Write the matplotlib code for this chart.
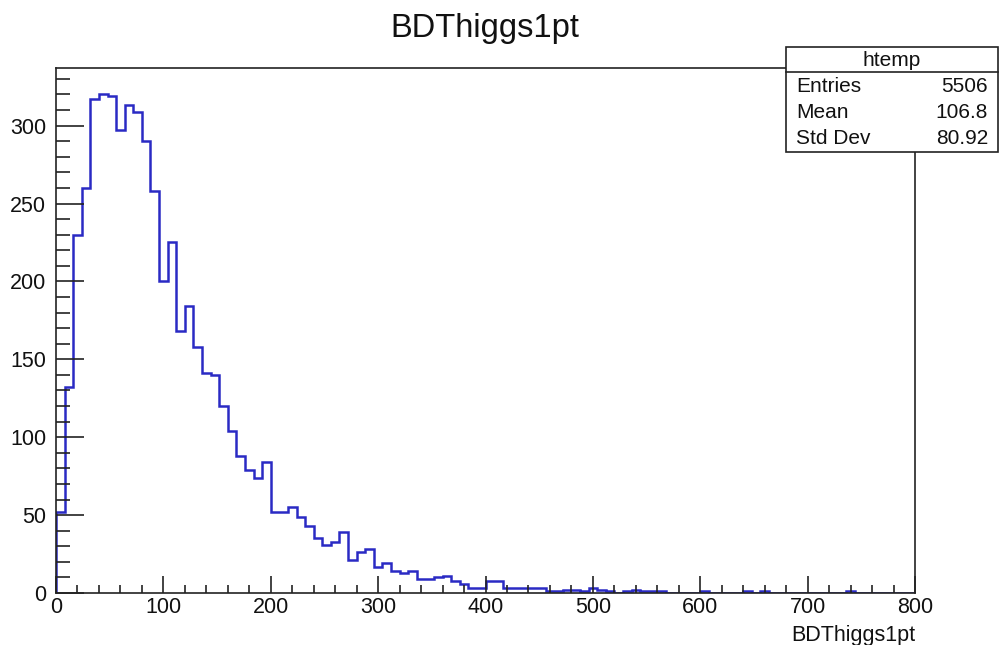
import numpy as np
import matplotlib
matplotlib.use("Agg")
import matplotlib.pyplot as plt
from matplotlib.patches import Rectangle
from matplotlib.ticker import MultipleLocator

plt.rcParams['font.family'] = ['Liberation Sans', 'DejaVu Sans']

# histogram BDThiggs1pt, 100 bins of width 8 from 0 to 800
bin_edges = np.arange(0, 808, 8)
counts = [52, 132, 230, 260, 317, 320, 319, 297, 313, 309,
          290, 258, 200, 225, 168, 184, 158, 141, 140, 120,
          104, 88, 79, 74, 84, 52, 52, 55, 49, 43,
          35, 31, 33, 39, 21, 26, 28, 17, 19, 14,
          13, 14, 9, 9, 10, 11, 8, 6, 3, 3,
          8, 8, 3, 3, 3, 3, 3, 1, 1, 2,
          2, 1, 3, 2, 1, 0, 1, 2, 1, 1,
          1, 0, 0, 0, 0, 1, 0, 0, 0, 0,
          1, 0, 1, 0, 0, 0, 0, 0, 0, 0,
          0, 0, 1, 0, 0, 0, 0, 0, 0, 0]

stat_names = ['Entries', 'Mean', 'Std Dev']
stat_values = ['5506', '106.8', '80.92']

fig = plt.figure(figsize=(9.99, 6.45), dpi=100)
ax = fig.add_axes([56/999, 52/645, 859/999, 525/645])

ax.stairs(counts, bin_edges, color='#2a2ac4', linewidth=1.8)

ax.set_xlim(0, 800)
ax.set_ylim(0, 337)
ax.xaxis.set_major_locator(MultipleLocator(100))
ax.xaxis.set_minor_locator(MultipleLocator(20))
ax.yaxis.set_major_locator(MultipleLocator(50))
ax.yaxis.set_minor_locator(MultipleLocator(10))
ax.tick_params(axis='both', which='both', direction='in', labelsize=15.5,
               width=1.2, colors='#222222', labelcolor='#111111')
ax.tick_params(axis='x', which='major', length=12, pad=3)
ax.tick_params(axis='x', which='minor', length=6)
ax.tick_params(axis='y', which='major', length=20, pad=7)
ax.tick_params(axis='y', which='minor', length=10)
for s in ax.spines.values():
    s.set_linewidth(1.2)
    s.set_color('#222222')

ax.set_xlabel('BDThiggs1pt', fontsize=15.5, color='#111111')
ax.xaxis.set_label_coords(1.0, -0.06)
ax.xaxis.label.set_horizontalalignment('right')

fig.text(485/999, 1 - 29/645, 'BDThiggs1pt', ha='center', va='center',
         fontsize=23.5, color='#111111')

# stats box
bx0, bx1 = 786/999, 998/999
by0, by1 = 1 - 152/645, 1 - 47/645
fig.patches.append(Rectangle((bx0, by0), bx1 - bx0, by1 - by0, transform=fig.transFigure,
                             facecolor='white', edgecolor='#222222', linewidth=1.2, zorder=5))
fig.add_artist(plt.Line2D([bx0, bx1], [1 - 72/645] * 2, transform=fig.transFigure,
                          color='#222222', linewidth=1.2, zorder=6))
fig.text((bx0 + bx1) / 2, 1 - 60/645, 'htemp', ha='center', va='center',
         fontsize=15, color='#111111', zorder=7)
for i, (n, v) in enumerate(zip(stat_names, stat_values)):
    yy = 1 - (87 + 25.5 * i) / 645
    fig.text(796/999, yy, n, ha='left', va='center', fontsize=15, color='#111111', zorder=7)
    fig.text(988/999, yy, v, ha='right', va='center', fontsize=15, color='#111111', zorder=7)

fig.savefig('out.png', dpi=100)
